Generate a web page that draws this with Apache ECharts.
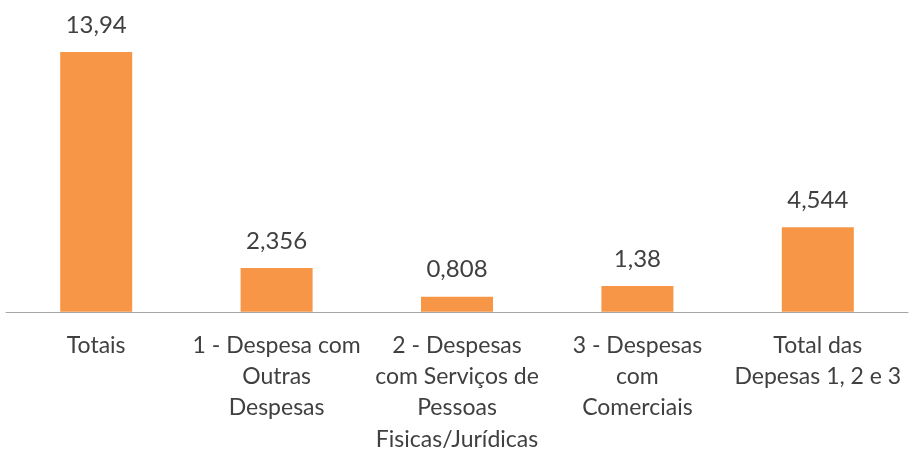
<!DOCTYPE html>
<html>
<head>
<meta charset="utf-8">
<script src="https://cdn.jsdelivr.net/npm/echarts@6/dist/echarts.min.js"></script>
<style>
  html, body { margin: 0; padding: 0; background: #fff; }
  #chart { width: 909px; height: 455px; }
</style>
</head>
<body>
<div id="chart"></div>
<script>
// categorias e valores
const categories = [
  'Totais',
  '1 - Despesa com\nOutras\nDespesas',
  '2 - Despesas\ncom Serviços de\nPessoas\nFisicas/Jurídicas',
  '3 - Despesas\ncom\nComerciais',
  'Total das\nDepesas 1, 2 e 3'
];
const values = [13.94, 2.356, 0.808, 1.38, 4.544];

const chart = echarts.init(document.getElementById('chart'));

const option = {
  animation: false,
  textStyle: { fontFamily: 'Lato, "Open Sans", sans-serif' },
  grid: { left: 6, right: 1, top: 51, bottom: 142, containLabel: false },
  xAxis: {
    type: 'category',
    data: categories,
    axisLine: { lineStyle: { color: '#a6a6a6', width: 1 } },
    axisTick: { show: false },
    axisLabel: {
      interval: 0,
      color: '#404040',
      fontSize: 23,
      lineHeight: 31.3,
      margin: 18,
      align: 'center'
    }
  },
  yAxis: {
    type: 'value',
    min: 0,
    max: 14,
    show: false,
    splitLine: { show: false }
  },
  series: [
    {
      type: 'bar',
      data: values,
      barWidth: 72,
      itemStyle: { color: '#F79646' },
      label: {
        show: true,
        position: 'top',
        distance: 15,
        color: '#404040',
        fontSize: 24,
        formatter: p => String(p.value).replace('.', ',')
      }
    }
  ]
};

chart.setOption(option);
</script>
</body>
</html>
